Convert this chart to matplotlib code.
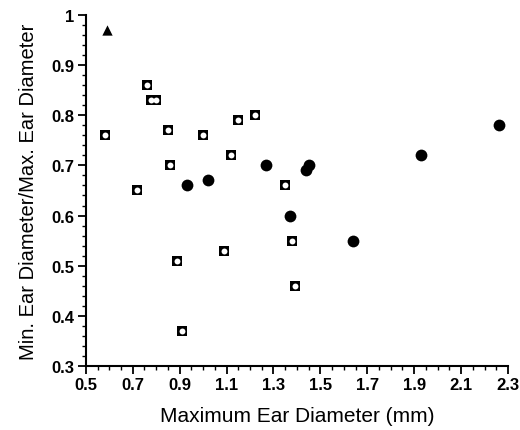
import matplotlib
matplotlib.use('Agg')
import matplotlib.pyplot as plt
from matplotlib.ticker import MultipleLocator

plt.rcParams['font.family'] = ['Liberation Sans', 'DejaVu Sans']

# open squares
sq_x = [0.58, 0.72, 0.76, 0.78, 0.80, 0.85, 0.86, 0.89, 0.91, 1.00, 1.09, 1.12, 1.15, 1.22, 1.35, 1.38, 1.39]
sq_y = [0.76, 0.65, 0.86, 0.83, 0.83, 0.77, 0.70, 0.51, 0.37, 0.76, 0.53, 0.72, 0.79, 0.80, 0.66, 0.55, 0.46]
# filled circles
ci_x = [0.93, 1.02, 1.27, 1.37, 1.44, 1.45, 1.64, 1.93, 2.26]
ci_y = [0.66, 0.67, 0.70, 0.60, 0.69, 0.70, 0.55, 0.72, 0.78]
# triangle
tr_x = [0.59]
tr_y = [0.97]

x_ticks = [0.5, 0.7, 0.9, 1.1, 1.3, 1.5, 1.7, 1.9, 2.1, 2.3]
x_labels = ['0.5', '0.7', '0.9', '1.1', '1.3', '1.5', '1.7', '1.9', '2.1', '2.3']
y_ticks = [0.3, 0.4, 0.5, 0.6, 0.7, 0.8, 0.9, 1.0]
y_labels = ['0.3', '0.4', '0.5', '0.6', '0.7', '0.8', '0.9', '1']

fig = plt.figure(figsize=(5.2, 4.31), dpi=100)
ax = fig.add_axes([0.165, 0.1485, 0.812, 0.8145])

# square symbol: black square with a white dot inside
ax.scatter(sq_x, sq_y, marker='s', s=62, color='black', linewidth=0, zorder=3)
ax.scatter(sq_x, sq_y, marker='o', s=18, color='white', linewidth=0, zorder=4)
ax.scatter(ci_x, ci_y, marker='o', s=72, color='black', linewidth=0, zorder=3)
ax.scatter(tr_x, tr_y, marker='^', s=55, color='black', linewidth=0, zorder=3)

ax.set_xlim(0.5, 2.3)
ax.set_ylim(0.3, 1.0)
ax.xaxis.set_minor_locator(MultipleLocator(0.05))
ax.yaxis.set_minor_locator(MultipleLocator(0.02))
ax.set_xticks(x_ticks)
ax.set_xticklabels(x_labels)
ax.set_yticks(y_ticks)
ax.set_yticklabels(y_labels)

for s in ['top', 'right']:
    ax.spines[s].set_visible(False)
for s in ['left', 'bottom']:
    ax.spines[s].set_linewidth(1.5)

ax.tick_params(which='major', direction='out', length=6, width=1.3, labelsize=12, pad=2)
ax.tick_params(which='minor', direction='out', length=3, width=1.0)
for lbl in ax.get_xticklabels() + ax.get_yticklabels():
    lbl.set_fontweight('bold')

ax.set_xlabel('Maximum Ear Diameter (mm)', fontsize=15, labelpad=10)
ax.set_ylabel('Min. Ear Diameter/Max. Ear Diameter', fontsize=14.5, labelpad=10)

fig.savefig('out.png', dpi=100)
